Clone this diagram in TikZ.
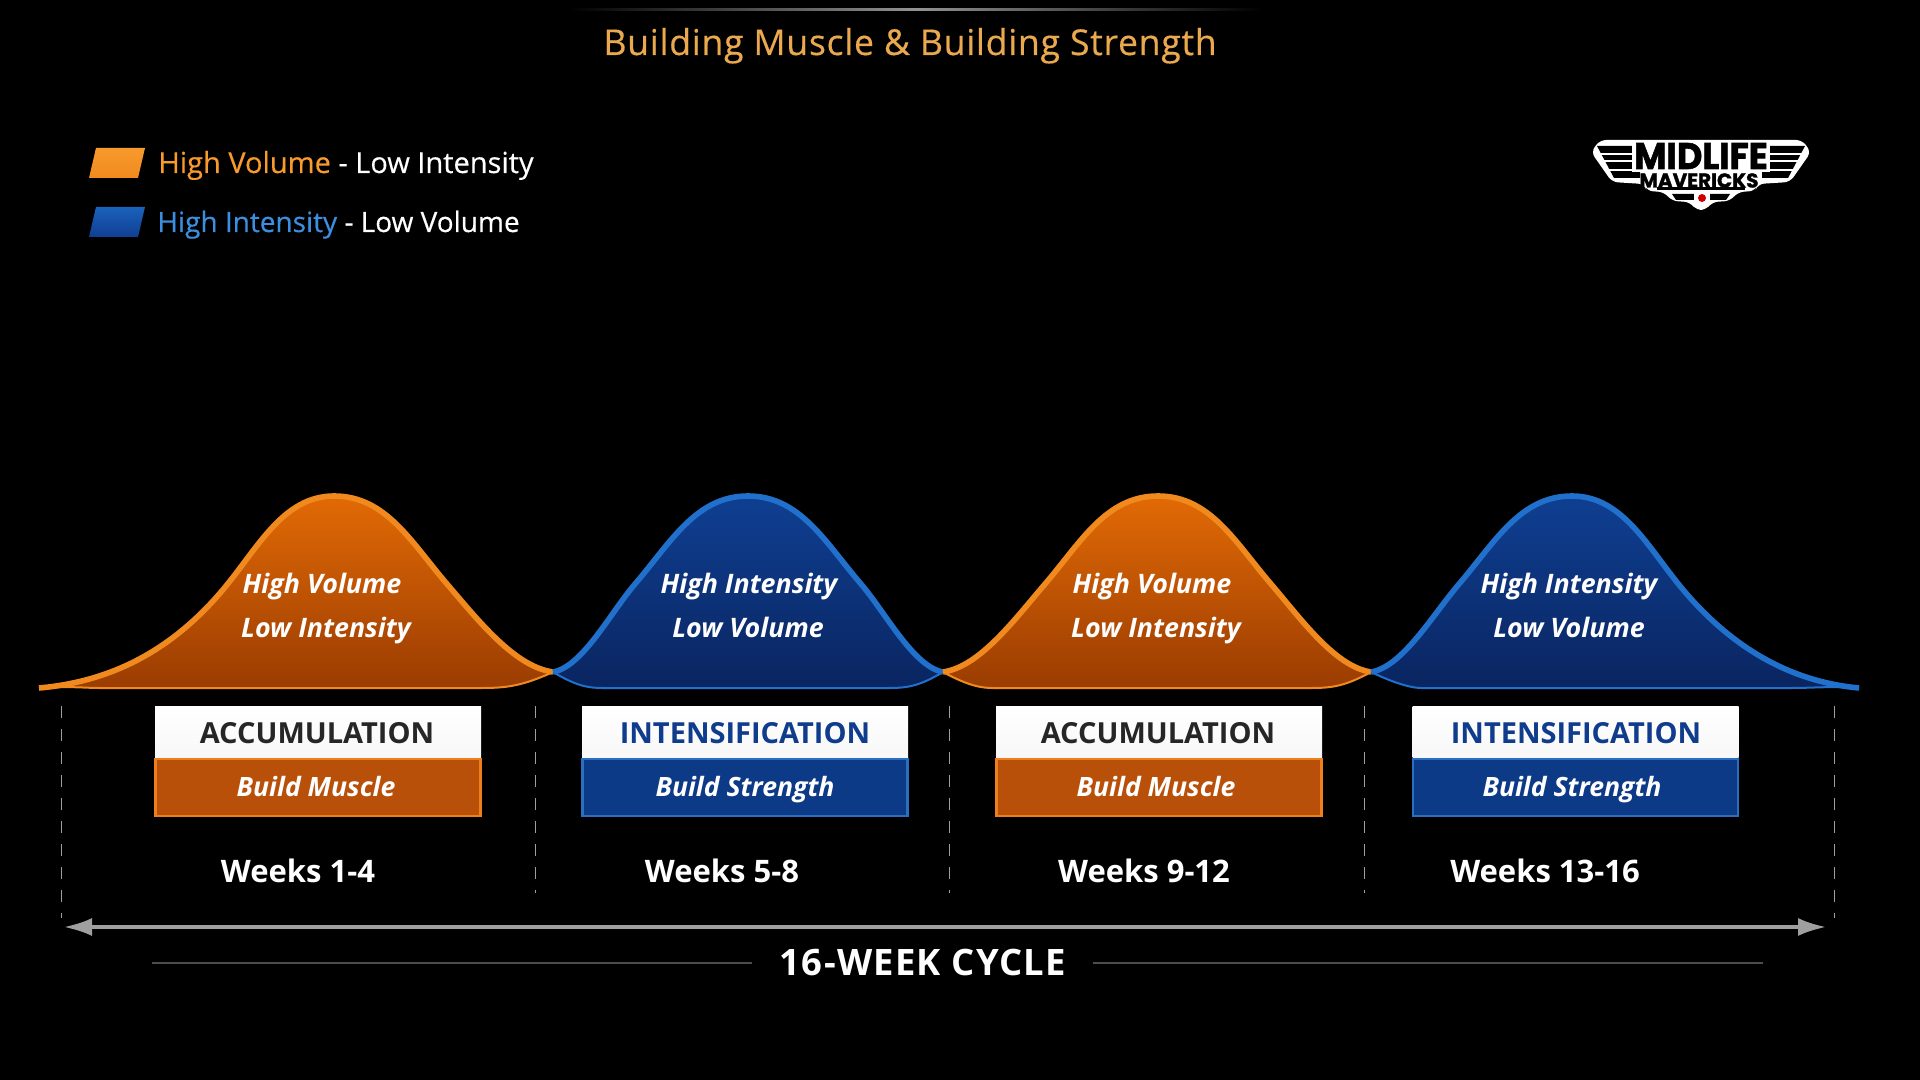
\documentclass[tikz,border=0pt]{standalone}
\usepackage{fontspec}
\setmainfont{Open Sans}
\newfontfamily\logofont{Poppins}
\usetikzlibrary{arrows.meta}
\definecolor{orT}{HTML}{E26A05}
\definecolor{orB}{HTML}{9A3C02}
\definecolor{orL}{HTML}{F08A1E}
\definecolor{orBox}{HTML}{B9500A}
\definecolor{orEdge}{HTML}{EE7F1C}
\definecolor{blT}{HTML}{0F3F92}
\definecolor{blB}{HTML}{0A2560}
\definecolor{blL}{HTML}{2070CC}
\definecolor{blBox}{HTML}{0D3A86}
\definecolor{blEdge}{HTML}{2B6FC0}
\definecolor{navy}{HTML}{0F3C8C}
\definecolor{titleC}{HTML}{EBA94F}
\definecolor{legO}{HTML}{F89A2C}
\definecolor{legB}{HTML}{3C8FE0}
\newcommand{\fsz}[1]{\fontsize{#1}{#1}\selectfont}
\tikzset{
  txt/.style={text=white,inner sep=0pt,text height=10pt,text depth=3pt,font=\fsz{13.4}\bfseries\itshape},
  head/.style={inner sep=0pt,text height=10pt,text depth=0pt,font=\fsz{14.5}\bfseries},
  sub/.style={text=white,inner sep=0pt,text height=10pt,text depth=1pt,font=\fsz{13.3}\bfseries\itshape},
  weeks/.style={text=white,inner sep=0pt,text height=11pt,text depth=0pt,font=\fsz{15.5}\bfseries},
  tophalf/.style={minimum width=163pt,minimum height=25.5pt,inner sep=0pt,top color=white,bottom color=gray!6},
  orangebox/.style={minimum width=162.5pt,minimum height=28.5pt,inner sep=0pt,fill=orBox,draw=orEdge,line width=1.2pt},
  bluebox/.style={minimum width=162.5pt,minimum height=28.5pt,inner sep=0pt,fill=blBox,draw=blEdge,line width=1.2pt},
  divider/.style={gray!75,line width=0.5pt,dash pattern=on 6pt off 5.5pt},
  legtext/.style={anchor=base west,inner sep=0pt,text=white,font=\fsz{14.5}\addfontfeature{FakeBold=0.3}},
}
% #1 x0, #2 y0, #3 peak, #4 x1, #5 y1, #6 top, #7 bottom, #8 line, #9 base-in
\newcommand{\bell}[9]{%
  \pgfmathsetmacro{\La}{#3-113-#1}\pgfmathsetmacro{\Ra}{#4-#3-113}%
  \pgfmathsetmacro{\Ha}{#2-496}\pgfmathsetmacro{\Hb}{#5-496}%
  \def\curvepath{(#1,#2) .. controls ({#1+.36*\La},{#2-.03*\Ha}) and ({#3-113-.3*\La},{#2-.5*\Ha+.35*\La}) .. ({#3-113},{#2-.5*\Ha})
    .. controls ({#3-113+36},{#2-.5*\Ha-42}) and ({#3-52},496) .. (#3,496)
    .. controls ({#3+52},496) and ({#3+113-36},{#5-.5*\Hb-42}) .. ({#3+113},{#5-.5*\Hb})
    .. controls ({#3+113+.3*\Ra},{#5-.5*\Hb+.35*\Ra}) and ({#4-.36*\Ra},{#5-.03*\Hb}) .. (#4,#5)}%
  \shade[top color=#6,bottom color=#7] \curvepath
    .. controls ({#4-.06*(#4-#1)},{688-2}) and ({#4-.09*(#4-#1)},688) .. ({#4-.14*(#4-#1)},688)
    -- ({#1+#9},688) .. controls ({#1+.09*(#4-#1)},688) and ({#1+.06*(#4-#1)},686) .. (#1,#2) -- cycle;
  \draw[#8,line width=1pt] (#4,#5) .. controls ({#4-.06*(#4-#1)},{688-2}) and ({#4-.09*(#4-#1)},688) .. ({#4-.14*(#4-#1)},688)
    -- ({#1+#9},688) .. controls ({#1+.09*(#4-#1)},688) and ({#1+.06*(#4-#1)},686) .. (#1,#2);
  \draw[#8,line width=2.8pt,line cap=butt] \curvepath;
}
\begin{document}
\begin{tikzpicture}[x=0.5pt,y=-0.5pt]
\useasboundingbox (0,0) rectangle (1920,1080);
\fill[black] (0,0) rectangle (1920,1080);

% title
\shade[left color=black,right color=gray!85] (569,9) rectangle (915,11);
\shade[left color=gray!85,right color=black] (915,9) rectangle (1262,11);
\node[inner sep=0pt,text=titleC,text height=13pt,text depth=4pt,font=\fsz{17.8}\addfontfeature{LetterSpace=2,FakeBold=0.4}] (title) at (910,46) {Building Muscle \& Building Strength};

% legend
\fill[top color=legO,bottom color=orL] (96,148) -- (145,148) -- (138,178) -- (89,178) -- cycle;
\fill[top color=blL!70!blT,bottom color=blT] (96,207) -- (145,207) -- (138,237) -- (89,237) -- cycle;
\node[legtext] (leg1) at (158,173) {\textcolor{legO}{High Volume} - Low Intensity};
\node[legtext,font=\fsz{14}\addfontfeature{FakeBold=0.3}] (leg2) at (157,232) {\textcolor{legB}{High Intensity} - Low Volume};

% logo
\fill[white,rounded corners=3pt] (1600,140) -- (1802,140) -- (1811,152) -- (1790,182) -- (1758,184) -- (1755,191) -- (1738,192) -- (1730,201) -- (1712,202) -- (1706,210) -- (1696,210) -- (1690,202) -- (1672,201) -- (1664,192) -- (1647,191) -- (1644,184) -- (1612,182) -- (1591,152) -- cycle;
\fill[black] (1597,146) -- (1640,146) -- (1640,178) -- (1614,178) -- cycle;
\fill[black] (1805,146) -- (1762,146) -- (1762,178) -- (1788,178) -- cycle;
\foreach \ya/\xl/\xr in {154/1600/1802,161/1604/1798,170/1609/1793}
  \draw[white,line width=1pt] (\xl,\ya) -- (\xr,\ya);
\fill[white] (1632,144) rectangle (1770,172);
\fill[black] (1657,187) rectangle (1745,190);
\fill[black] (1672,194) -- (1730,194) -- (1726,200) -- (1676,200) -- cycle;
\fill[white] (1694,192) rectangle (1710,204);
\fill[red!80!black] (1702,198) circle (4);
\node[inner sep=0pt,text=black,text height=12pt,text depth=0pt,font=\logofont\fsz{18.5}\bfseries\addfontfeature{FakeBold=1.5}] (logoa) at (1701,157) {\scalebox{.95}[1]{MIDLIFE}};
\node[inner sep=0pt,text=black,text height=6.5pt,text depth=0pt,font=\logofont\fsz{10}\bfseries\addfontfeature{FakeBold=1.5}] (logob) at (1699,181) {MAVERICKS};

% bells
\bell{39}{688}{334}{553}{672}{orT}{orB}{orL}{60}
\bell{553}{672}{748}{943}{672}{blT}{blB}{blL}{50}
\bell{943}{672}{1158}{1371}{672}{orT}{orB}{orL}{50}
\bell{1371}{672}{1572}{1859}{688}{blT}{blB}{blL}{50}

% bell labels
\node[txt] (b1a) at (322,586) {High Volume};
\node[txt] (b1b) at (326,630) {Low Intensity};
\node[txt] (b2a) at (749,586) {High Intensity};
\node[txt] (b2b) at (748,630) {Low Volume};
\node[txt] (b3a) at (1152,586) {High Volume};
\node[txt] (b3b) at (1156,630) {Low Intensity};
\node[txt] (b4a) at (1569,586) {High Intensity};
\node[txt] (b4b) at (1569,630) {Low Volume};

% dividers
\foreach \x/\yb in {61/918,535/893,949/893,1364/893,1834/918}
  \draw[divider] (\x,706) -- (\x,\yb);

% boxes
\node[tophalf] (t1) at (318,732) {};
\node[tophalf] (t2) at (745,732) {};
\node[tophalf] (t3) at (1159,732) {};
\node[tophalf] (t4) at (1575.5,732) {};
\node[orangebox] (u1) at (318,787.5) {};
\node[bluebox] (u2) at (745,787.5) {};
\node[orangebox] (u3) at (1159,787.5) {};
\node[bluebox] (u4) at (1575.5,787.5) {};
\node[head,text=black!85] at (317,733) {ACCUMULATION};
\node[head,text=navy] at (745,733) {INTENSIFICATION};
\node[head,text=black!85] at (1158,733) {ACCUMULATION};
\node[head,text=navy] at (1576,733) {INTENSIFICATION};
\node[sub] at (316,787) {Build Muscle};
\node[sub] at (745,787) {Build Strength};
\node[sub] at (1156,787) {Build Muscle};
\node[sub] at (1572,787) {Build Strength};

% weeks
\node[weeks] (w1) at (298,871) {Weeks 1-4};
\node[weeks] (w2) at (722,871) {Weeks 5-8};
\node[weeks] (w3) at (1144,871) {Weeks 9-12};
\node[weeks] (w4) at (1545,871) {Weeks 13-16};

% cycle
\coordinate (al) at (64,927);
\coordinate (ar) at (1826,927);
\draw[gray!75,line width=1.6pt,{Latex[length=14pt,width=9pt]}-{Latex[length=14pt,width=9pt]}] (al) -- (ar);
\node[inner sep=0pt,text=white,text height=12.5pt,text depth=0pt,font=\fsz{18.2}\bfseries\addfontfeature{LetterSpace=3.5}] (cyc) at (923,963) {16-WEEK CYCLE};
\coordinate (ll) at (152,963);
\coordinate (lr) at (752,963);
\coordinate (rl) at (1093,963);
\coordinate (rr) at (1763,963);
\draw[white!30!black,line width=0.9pt] (ll) -- (lr);
\draw[white!30!black,line width=0.9pt] (rl) -- (rr);
\end{tikzpicture}
\end{document}
